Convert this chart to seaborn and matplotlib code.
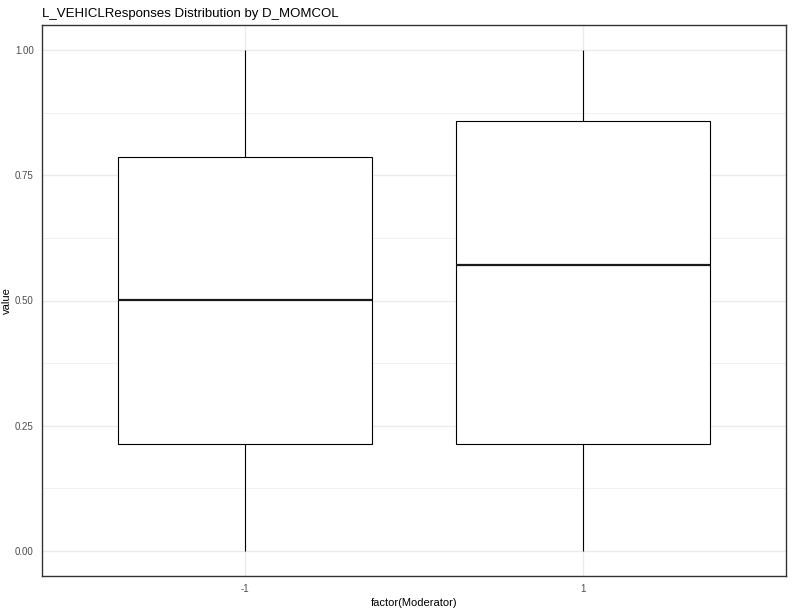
import numpy as np
import pandas as pd
import matplotlib
matplotlib.use("Agg")
import matplotlib.pyplot as plt
from matplotlib.ticker import MultipleLocator
import seaborn as sns

# Box summaries (min, q1, median, q3, max)
groups = ["-1", "1"]
mins = [0.0, 0.0]
q1s = [0.2136, 0.2136]
medians = [0.501, 0.571]
q3s = [0.786, 0.858]
maxs = [1.0, 1.0]

# five points per group reproduce the same five-number summary
rows = []
for g, a, b, c, d, e in zip(groups, mins, q1s, medians, q3s, maxs):
    for v in (a, b, c, d, e):
        rows.append({"Moderator": g, "value": v})
df = pd.DataFrame(rows)

sns.set_style("white")
plt.rcParams['font.family'] = ['Liberation Sans', 'DejaVu Sans']

fig = plt.figure(figsize=(7.92, 6.12), dpi=100)
ax = fig.add_axes([42 / 792, 36 / 612, 744 / 792, 551 / 612])

sns.boxplot(data=df, x="Moderator", y="value", order=groups, width=0.75,
            color="white", linecolor="black", linewidth=0.8, whis=1.5,
            showfliers=False, showcaps=False, saturation=1,
            medianprops={"linewidth": 1.6, "color": "#1a1a1a"},
            ax=ax)

ax.set_xlim(-0.6, 1.6)
ax.set_ylim(-0.05, 1.05)
ax.yaxis.set_major_locator(MultipleLocator(0.25))
ax.yaxis.set_minor_locator(MultipleLocator(0.125))
ax.set_yticks([0, 0.25, 0.5, 0.75, 1.0])
ax.set_yticklabels(["0.00", "0.25", "0.50", "0.75", "1.00"])

ax.grid(which="major", color="#EBEBEB", linewidth=1.0)
ax.grid(which="minor", axis="y", color="#EBEBEB", linewidth=0.5)
ax.set_axisbelow(True)

for s in ax.spines.values():
    s.set_color("#333333")
    s.set_linewidth(1.0)

ax.tick_params(which="major", length=3, width=0.8, color="#333333",
               labelsize=7, labelcolor="#4D4D4D", pad=3)
ax.tick_params(which="minor", length=0)

ax.set_xlabel("factor(Moderator)", fontsize=8, color="black", labelpad=3)
ax.set_ylabel("value", fontsize=8, color="black", labelpad=2)
ax.yaxis.set_label_coords(-30 / 744, 0.5)
ax.set_title("L_VEHICLResponses Distribution by D_MOMCOL", fontsize=9.5,
             loc="left", pad=6, color="black")

fig.savefig("out.png", dpi=100)
